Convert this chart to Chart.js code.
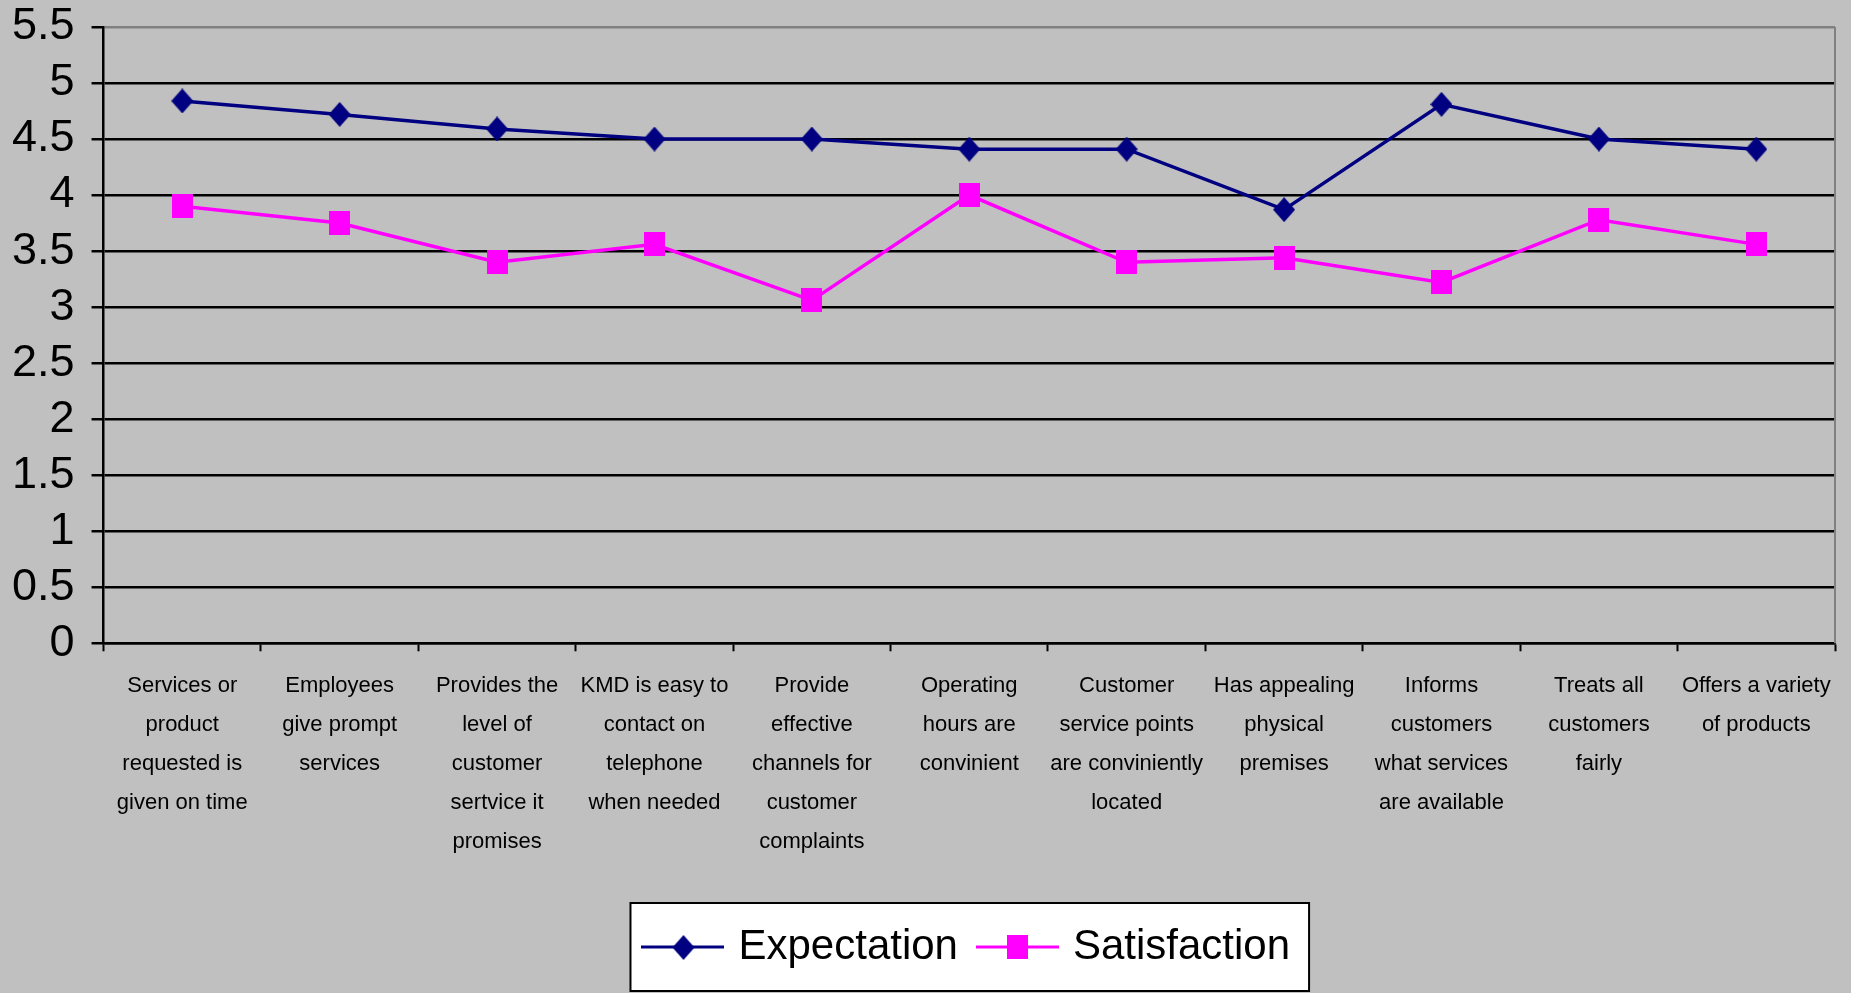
<!DOCTYPE html>
<html><head><meta charset="utf-8">
<script src="https://cdn.jsdelivr.net/npm/chart.js@4"></script>
<style>
html,body{margin:0;padding:0;background:#c0c0c0;}
#wrap{width:1851px;height:993px;position:relative;}
</style>
</head><body><div id="wrap"><canvas id="c"></canvas></div>
<script>
const categories = [
  ["Services or","product","requested is","given on time"],
  ["Employees","give prompt","services"],
  ["Provides the","level of","customer","sertvice it","promises"],
  ["KMD is easy to","contact on","telephone","when needed"],
  ["Provide","effective","channels for","customer","complaints"],
  ["Operating","hours are","convinient"],
  ["Customer","service points","are conviniently","located"],
  ["Has appealing","physical","premises"],
  ["Informs","customers","what services","are available"],
  ["Treats all","customers","fairly"],
  ["Offers a variety","of products"]
];
const expectation  = [4.84, 4.72, 4.59, 4.50, 4.50, 4.41, 4.41, 3.87, 4.81, 4.50, 4.41];
const satisfaction = [3.90, 3.75, 3.40, 3.56, 3.06, 4.00, 3.40, 3.44, 3.22, 3.78, 3.56];
const seriesNames = ["Expectation", "Satisfaction"];
const yMin = 0, yMax = 5.5, yStep = 0.5;

const FONT = "'Liberation Sans', Arial, sans-serif";
const NAVY = "#000080", MAGENTA = "#ff00ff";

function makeDiamond(w, h, color) {
  const c = document.createElement('canvas'); c.width = w; c.height = h;
  const g = c.getContext('2d'); g.fillStyle = color; g.beginPath();
  g.moveTo(w/2, 0); g.lineTo(w, h/2); g.lineTo(w/2, h); g.lineTo(0, h/2); g.closePath(); g.fill();
  return c;
}
function makeSquare(w, h, color) {
  const c = document.createElement('canvas'); c.width = w; c.height = h;
  const g = c.getContext('2d'); g.fillStyle = color; g.fillRect(0, 0, w, h);
  return c;
}
function makeLegendSample(marker, color) {
  const w = 83, h = 26;
  const c = document.createElement('canvas'); c.width = w; c.height = h;
  const g = c.getContext('2d');
  g.strokeStyle = color; g.lineWidth = 3; g.beginPath(); g.moveTo(0, h/2); g.lineTo(w, h/2); g.stroke();
  g.drawImage(marker, Math.round((w - marker.width)/2), Math.round((h - marker.height)/2));
  return c;
}
const diamond = makeDiamond(22, 25, NAVY);
const square = makeSquare(21, 24, MAGENTA);
const legendSamples = [makeLegendSample(diamond, NAVY), makeLegendSample(square, MAGENTA)];

const framePlugin = {
  id: 'frame',
  beforeDraw(chart) {
    const {ctx, legend} = chart;
    const hb = legend && legend.legendHitBoxes;
    if (hb && hb.length) {
      const last = hb[hb.length - 1];
      const l = hb[0].left - 18, r = last.left + last.width + 19;
      const cy = hb[0].top + hb[0].height / 2;
      ctx.save();
      ctx.fillStyle = '#ffffff';
      ctx.fillRect(l, cy - 44, r - l, 88);
      ctx.strokeStyle = '#000000'; ctx.lineWidth = 2;
      ctx.strokeRect(l, cy - 44, r - l, 88);
      ctx.restore();
    }
  },
  beforeDatasetsDraw(chart) {
    const {ctx, chartArea: a} = chart;
    ctx.save();
    ctx.strokeStyle = '#808080'; ctx.lineWidth = 2;
    ctx.beginPath(); ctx.moveTo(a.right, a.top); ctx.lineTo(a.right, a.bottom); ctx.stroke();
    ctx.restore();
  }
};

new Chart(document.getElementById('c'), {
  type: 'line',
  data: {
    labels: categories,
    datasets: [
      { label: seriesNames[0], data: expectation, borderColor: NAVY, backgroundColor: NAVY,
        borderWidth: 3.5, pointStyle: diamond, tension: 0, fill: false },
      { label: seriesNames[1], data: satisfaction, borderColor: MAGENTA, backgroundColor: MAGENTA,
        borderWidth: 3.5, pointStyle: square, tension: 0, fill: false }
    ]
  },
  options: {
    responsive: true,
    maintainAspectRatio: false,
    animation: false,
    layout: { padding: { left: 12, right: 16, top: 27, bottom: 15 } },
    plugins: {
      tooltip: { enabled: false },
      legend: {
        position: 'bottom',
        fullSize: false,
        labels: {
          usePointStyle: true,
          pointStyleWidth: 69,
          padding: 25,
          color: '#000',
          font: { family: FONT, size: 42 },
          generateLabels(chart) {
            return chart.data.datasets.map((ds, i) => ({
              text: ds.label, pointStyle: legendSamples[i], fillStyle: ds.borderColor,
              strokeStyle: ds.borderColor, lineWidth: 0, hidden: false, datasetIndex: i, fontColor: '#000'
            }));
          }
        }
      }
    },
    scales: {
      x: {
        type: 'category',
        offset: true,
        grid: { display: true, drawOnChartArea: false, drawTicks: true, tickLength: 8, tickWidth: 2, tickColor: '#000', offset: true },
        border: { display: true, color: '#000', width: 2.5 },
        ticks: { autoSkip: false, maxRotation: 0, minRotation: 0, padding: 15, color: '#000',
                 font: { family: FONT, size: 22, lineHeight: 1.77 } },
        afterFit(scale) { scale.height += 25; }
      },
      y: {
        min: yMin, max: yMax,
        grid: {
          color: (c) => (c.tick && c.tick.value === yMax) ? '#808080' : '#000000',
          lineWidth: 2.5, tickLength: 12, tickColor: '#000', tickWidth: 2.5
        },
        border: { display: true, color: '#000', width: 2.5 },
        ticks: { stepSize: yStep, autoSkip: false, padding: 17, color: '#000',
                 font: { family: FONT, size: 45, lineHeight: 0.44 },
                 callback: (v) => String(v) },
        afterFit(scale) { scale.width -= 17; }
      }
    }
  },
  plugins: [framePlugin]
});
</script>
</body></html>
